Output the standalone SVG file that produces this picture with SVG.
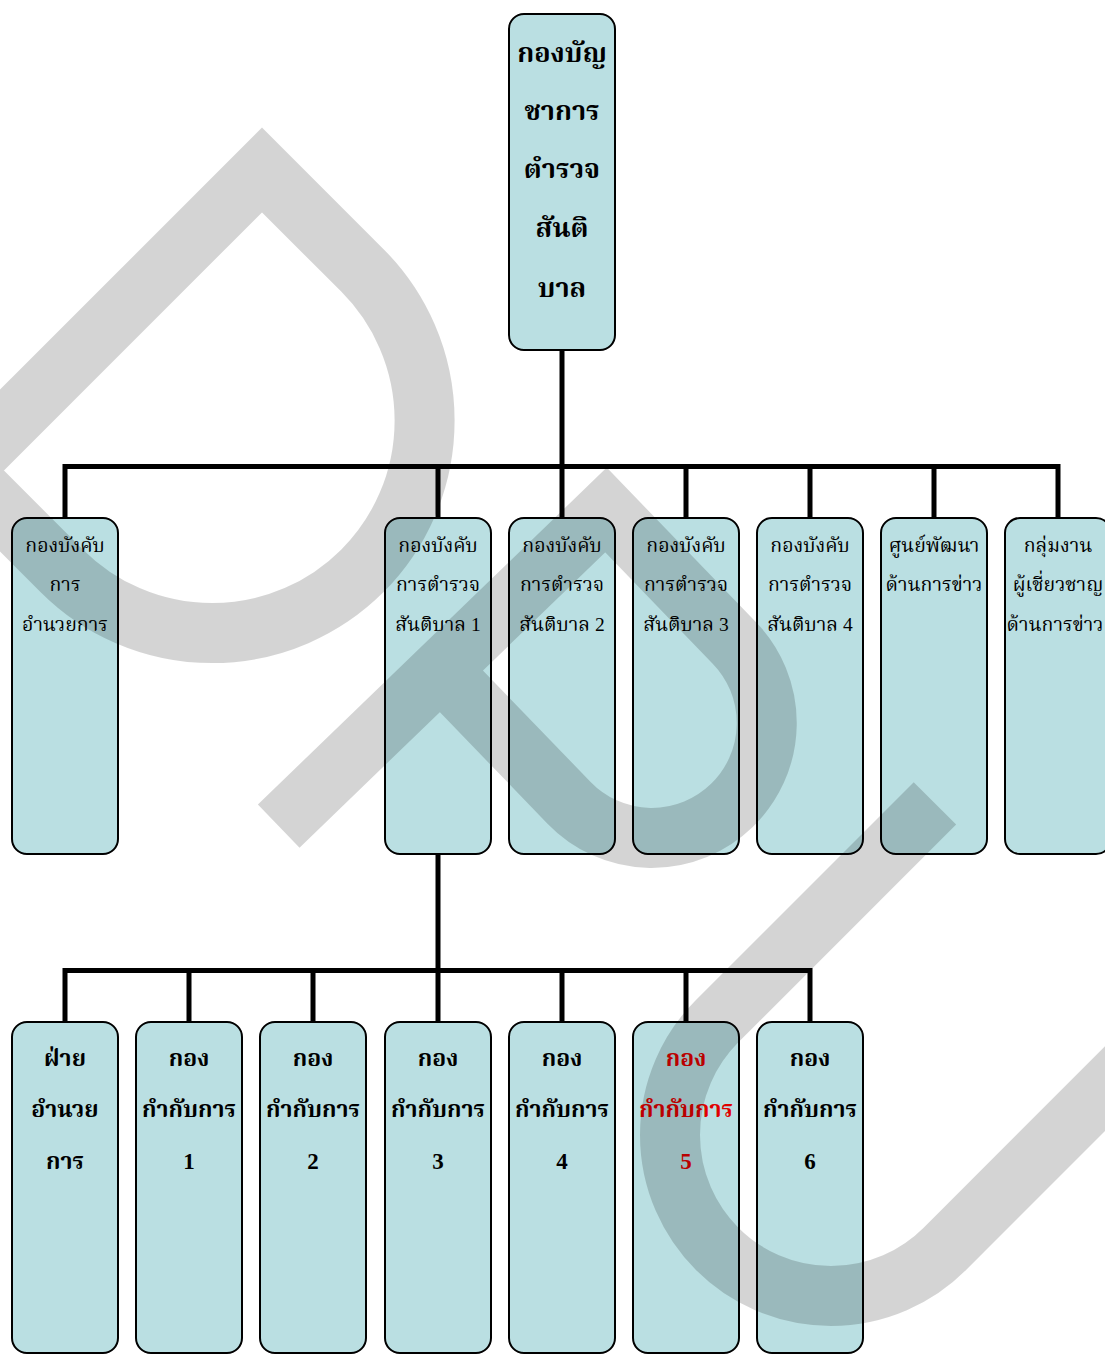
<svg xmlns="http://www.w3.org/2000/svg" width="1105" height="1354" viewBox="0 0 1105 1354">
<style>
.box{fill:#badfe2;stroke:#000;stroke-width:2}
.conn{fill:none;stroke:#000;stroke-width:5;stroke-linejoin:miter;stroke-linecap:butt}
.t{font-family:"Liberation Serif","Noto Serif Thai","Tlwg Typo",serif;text-anchor:middle;fill:#000}
.top{font-size:27px;font-weight:bold}
.l2{font-size:19.5px}
.l3{font-size:23px;font-weight:bold}
.red{fill:#e00000}
.wm{fill:none;stroke:#000;stroke-opacity:0.17;stroke-width:60;stroke-linejoin:miter;stroke-miterlimit:10;stroke-linecap:butt}
</style>
<rect width="1105" height="1354" fill="#fff"/>
<g id="connectors">
<path class="conn" d="M562,350 V466.5"/>
<path class="conn" d="M65,518 V466.5 H1058 V518"/>
<path class="conn" d="M438,466.5 V518 M562,466.5 V518 M686,466.5 V518 M810,466.5 V518 M934,466.5 V518"/>
<path class="conn" d="M438,854 V970.5"/>
<path class="conn" d="M65,1022 V970.5 H810 V1022"/>
<path class="conn" d="M189,970.5 V1022 M313,970.5 V1022 M438,970.5 V1022 M562,970.5 V1022 M686,970.5 V1022"/>
</g>
<g id="n0"><rect class="box" x="509" y="14" width="106" height="336" rx="15"/>
<text class="t top" x="562" y="62">กองบัญ</text><text class="t top" x="562" y="120">ชาการ</text><text class="t top" x="562" y="178">ตำรวจ</text><text class="t top" x="562" y="237">สันติ</text><text class="t top" x="562" y="297">บาล</text></g>
<g id="n1"><rect class="box" x="12" y="518" width="106" height="336" rx="15"/>
<text class="t l2" x="65" y="552">กองบังคับ</text><text class="t l2" x="65" y="591">การ</text><text class="t l2" x="65" y="631">อำนวยการ</text></g>
<g id="n2"><rect class="box" x="385" y="518" width="106" height="336" rx="15"/>
<text class="t l2" x="438" y="552">กองบังคับ</text><text class="t l2" x="438" y="591">การตำรวจ</text><text class="t l2" x="438" y="631">สันติบาล 1</text></g>
<g id="n3"><rect class="box" x="509" y="518" width="106" height="336" rx="15"/>
<text class="t l2" x="562" y="552">กองบังคับ</text><text class="t l2" x="562" y="591">การตำรวจ</text><text class="t l2" x="562" y="631">สันติบาล 2</text></g>
<g id="n4"><rect class="box" x="633" y="518" width="106" height="336" rx="15"/>
<text class="t l2" x="686" y="552">กองบังคับ</text><text class="t l2" x="686" y="591">การตำรวจ</text><text class="t l2" x="686" y="631">สันติบาล 3</text></g>
<g id="n5"><rect class="box" x="757" y="518" width="106" height="336" rx="15"/>
<text class="t l2" x="810" y="552">กองบังคับ</text><text class="t l2" x="810" y="591">การตำรวจ</text><text class="t l2" x="810" y="631">สันติบาล 4</text></g>
<g id="n6"><rect class="box" x="881" y="518" width="106" height="336" rx="15"/>
<text class="t l2" x="934" y="552">ศูนย์พัฒนา</text><text class="t l2" x="934" y="591">ด้านการข่าว</text></g>
<g id="n7"><rect class="box" x="1005" y="518" width="106" height="336" rx="15"/>
<text class="t l2" x="1058" y="552">กลุ่มงาน</text><text class="t l2" x="1058" y="591">ผู้เชี่ยวชาญ</text><text class="t l2" x="1055" y="631">ด้านการข่าว</text></g>
<g id="n8"><rect class="box" x="12" y="1022" width="106" height="331" rx="15"/>
<text class="t l3" x="65" y="1066">ฝ่าย</text><text class="t l3" x="65" y="1117">อำนวย</text><text class="t l3" x="65" y="1169">การ</text></g>
<g id="n9"><rect class="box" x="136" y="1022" width="106" height="331" rx="15"/>
<text class="t l3" x="189" y="1066">กอง</text><text class="t l3" x="189" y="1117">กำกับการ</text><text class="t l3" x="189" y="1169">1</text></g>
<g id="n10"><rect class="box" x="260" y="1022" width="106" height="331" rx="15"/>
<text class="t l3" x="313" y="1066">กอง</text><text class="t l3" x="313" y="1117">กำกับการ</text><text class="t l3" x="313" y="1169">2</text></g>
<g id="n11"><rect class="box" x="385" y="1022" width="106" height="331" rx="15"/>
<text class="t l3" x="438" y="1066">กอง</text><text class="t l3" x="438" y="1117">กำกับการ</text><text class="t l3" x="438" y="1169">3</text></g>
<g id="n12"><rect class="box" x="509" y="1022" width="106" height="331" rx="15"/>
<text class="t l3" x="562" y="1066">กอง</text><text class="t l3" x="562" y="1117">กำกับการ</text><text class="t l3" x="562" y="1169">4</text></g>
<g id="n13"><rect class="box" x="633" y="1022" width="106" height="331" rx="15"/>
<text class="t l3 red" x="686" y="1066">กอง</text><text class="t l3 red" x="686" y="1117">กำกับการ</text><text class="t l3 red" x="686" y="1169">5</text></g>
<g id="n14"><rect class="box" x="757" y="1022" width="106" height="331" rx="15"/>
<text class="t l3" x="810" y="1066">กอง</text><text class="t l3" x="810" y="1117">กำกับการ</text><text class="t l3" x="810" y="1169">6</text></g>
<g id="watermark">
<path class="wm" transform="translate(262,170) rotate(45)" d="M0,0 H142 A212.5,212.5 0 0 1 142,425 H0 Z"/>
<path class="wm" transform="translate(606,510) rotate(46)" d="M0,455 V0 H185 A115,115 0 0 1 185,230 H0"/>
<path class="wm" transform="translate(831,1135) rotate(45)" d="M-161,-308 V0 A161,161 0 0 0 161,0 V-700"/>
</g>
</svg>
